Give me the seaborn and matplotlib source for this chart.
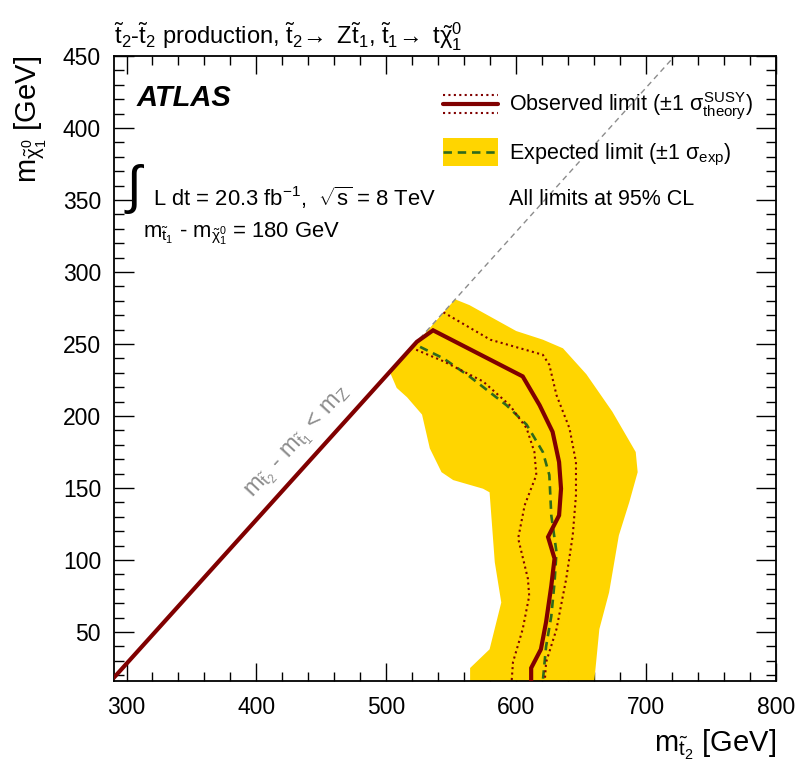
import matplotlib
matplotlib.use("Agg")
import matplotlib.pyplot as plt
import seaborn as sns
from matplotlib.lines import Line2D
from matplotlib.patches import Rectangle
from matplotlib.legend_handler import HandlerBase
from matplotlib.ticker import MultipleLocator

# ---------------- data ----------------
diag_x = [290, 722]
diag_y = [18, 450]

obs_x = [290, 523.5, 536, 605, 618, 628, 633, 634.5, 633, 624.5, 629.5, 627, 623, 619, 611.5, 611.5]
obs_y = [18, 251.5, 259.5, 227.5, 207.5, 189, 168, 149.5, 131, 116, 101, 82, 57, 38, 25, 16]

obs_up_x = [544, 580, 620.5, 625.5, 631, 641, 646, 646, 643.5, 638.5, 631, 623, 622]
obs_up_y = [272, 253, 242.5, 235.5, 214.5, 191.5, 168, 145, 117, 87, 52, 29, 16]

obs_dn_x = [523, 544, 574.5, 595, 608, 614, 615.5, 606.5, 601.5, 609, 610, 605, 597.5, 596.5]
obs_dn_y = [246, 238, 224, 207.5, 191.5, 175, 159, 138, 115, 87, 75, 52, 29, 16]

exp_x = [526, 544, 564, 592.5, 608, 620.5, 625.5, 627, 631, 629.5, 627, 623, 620.5]
exp_y = [248, 240, 227.5, 207.5, 194, 175, 159, 131, 105.5, 84.5, 61, 40, 16]

band_x = [503, 551.5, 553, 564, 577, 600, 620.5, 636, 654, 674, 692, 693.5, 687, 679, 671.5, 664, 660,
          564.5, 564.5, 579.5, 588.5, 583.5, 579.5, 574.5, 551.5, 542.5, 533.5, 527.5, 516, 508]
band_y = [230, 279.5, 281, 277, 270.5, 259, 253, 247, 229, 203, 175, 161, 140, 117, 77.5, 52, 15,
          15, 25, 38, 70.5, 98.5, 147, 149.5, 155.5, 161, 177.5, 201, 213, 219.5]

xlim = (290, 800)
ylim = (16, 450)
xticks = [300, 400, 500, 600, 700, 800]
yticks = [50, 100, 150, 200, 250, 300, 350, 400, 450]

RED = "#800000"
YEL = "#ffd500"
GRN = "#2f6a1c"
GRAY = "#8c8c8c"

# ---------------- style ----------------
sns.set_style("ticks")
plt.rcParams["font.family"] = ["Liberation Sans", "DejaVu Sans"]
plt.rcParams["mathtext.fontset"] = "custom"
plt.rcParams["mathtext.rm"] = "Liberation Sans"
plt.rcParams["mathtext.it"] = "Liberation Sans"
plt.rcParams["mathtext.bf"] = "Liberation Sans:bold"
plt.rcParams["mathtext.sf"] = "Liberation Sans"
plt.rcParams["text.color"] = "black"
plt.rcParams["axes.labelcolor"] = "black"
plt.rcParams["xtick.color"] = "black"
plt.rcParams["ytick.color"] = "black"

fig = plt.figure(figsize=(7.96, 7.72), dpi=100)
ax = fig.add_axes([0.1426, 0.1179, 0.9749 - 0.1426, 0.9275 - 0.1179])

# band
ax.fill(band_x, band_y, color=YEL, lw=0, zorder=1)

# diagonal
sns.lineplot(x=diag_x, y=diag_y, sort=False, estimator=None, color=GRAY, lw=1.0, ax=ax, zorder=2)
ax.lines[-1].set_linestyle((0, (4, 3)))

# expected
sns.lineplot(x=exp_x, y=exp_y, sort=False, estimator=None, color=GRN, lw=1.9, ax=ax, zorder=3)
ax.lines[-1].set_linestyle((0, (3.2, 2.2)))

# observed +- theory
for xs, ys in [(obs_up_x, obs_up_y), (obs_dn_x, obs_dn_y)]:
    sns.lineplot(x=xs, y=ys, sort=False, estimator=None, color=RED, lw=1.5, ax=ax, zorder=4)
    ax.lines[-1].set_linestyle((0, (1, 1.6)))

# observed
sns.lineplot(x=obs_x, y=obs_y, sort=False, estimator=None, color=RED, lw=3.0, ax=ax, zorder=5)
ax.lines[-1].set_solid_joinstyle("miter")

ax.set_xlim(*xlim)
ax.set_ylim(*ylim)
ax.set_xticks(xticks)
ax.set_yticks(yticks)
ax.xaxis.set_minor_locator(MultipleLocator(20))
ax.yaxis.set_minor_locator(MultipleLocator(10))
ax.tick_params(axis="both", which="both", direction="in", top=True, right=True,
               labelsize=16.5, colors="black", width=1.0)
ax.tick_params(axis="x", which="major", length=13, pad=11)
ax.tick_params(axis="x", which="minor", length=6.5)
ax.tick_params(axis="y", which="major", length=14.5, pad=9)
ax.tick_params(axis="y", which="minor", length=7)
for s in ax.spines.values():
    s.set_linewidth(1.3)
    s.set_color("black")

ax.set_xlabel(r"m$_{\tilde{t}_{2}}$ [GeV]", fontsize=21, loc="right", labelpad=6)
ax.set_ylabel(r"m$_{\tilde{\chi}^{0}_{1}}$ [GeV]", fontsize=21, loc="top", labelpad=10)

ax.set_title(r"$\tilde{t}_{2}$-$\tilde{t}_{2}$ production, $\tilde{t}_{2}\!\rightarrow$ Z$\tilde{t}_{1}$, "
             r"$\tilde{t}_{1}\!\rightarrow$ t$\tilde{\chi}^{0}_{1}$",
             loc="left", fontsize=17, pad=8)

# texts
ax.text(0.035, 0.933, "ATLAS", transform=ax.transAxes, fontsize=21, fontweight="bold",
        fontstyle="italic", ha="left", va="center")
ax.text(0.02, 0.787, "\u222b", transform=ax.transAxes, fontsize=38, ha="left", va="center")
ax.text(0.0594, 0.7728, r"L dt = 20.3 fb$^{-1}$,  $\sqrt{\mathrm{s}}$ = 8 TeV", transform=ax.transAxes,
        fontsize=15.8, ha="left", va="center")
ax.text(0.0444, 0.716, r"m$_{\tilde{t}_{1}}$ - m$_{\tilde{\chi}^{0}_{1}}$ = 180 GeV", transform=ax.transAxes,
        fontsize=15.8, ha="left", va="center")
ax.text(432, 182, r"m$_{\tilde{t}_{2}}$ - m$_{\tilde{t}_{1}}$ < m$_{Z}$", color=GRAY, fontsize=17,
        rotation=47.5, ha="center", va="center", rotation_mode="anchor")


# legend
class ObsHandler(HandlerBase):
    def create_artists(self, legend, orig_handle, xdescent, ydescent, width, height, fontsize, trans):
        yc = height / 2 - ydescent
        off = 0.43 * fontsize
        x0, x1 = -xdescent, -xdescent + width
        a = Line2D([x0, x1], [yc, yc], color=RED, lw=3.0, transform=trans)
        b = Line2D([x0, x1], [yc + off, yc + off], color=RED, lw=1.5, ls=(0, (1, 1.6)), transform=trans)
        c = Line2D([x0, x1], [yc - off, yc - off], color=RED, lw=1.5, ls=(0, (1, 1.6)), transform=trans)
        return [a, b, c]


class ExpHandler(HandlerBase):
    def create_artists(self, legend, orig_handle, xdescent, ydescent, width, height, fontsize, trans):
        r = Rectangle((-xdescent, -ydescent), width, height, facecolor=YEL, edgecolor="none", transform=trans)
        yc = height / 2 - ydescent
        l = Line2D([-xdescent, -xdescent + width], [yc, yc], color=GRN, lw=1.9, ls=(0, (3.2, 2.2)),
                   transform=trans)
        return [r, l]


class BlankHandler(HandlerBase):
    def create_artists(self, legend, orig_handle, xdescent, ydescent, width, height, fontsize, trans):
        return [Line2D([], [], color="none", transform=trans)]


h_obs = Line2D([], [])
h_exp = Rectangle((0, 0), 1, 1)
h_blank = Line2D([], [], color="none")
ax.legend([h_obs, h_exp, h_blank],
          [r"Observed limit ($\pm$1 $\sigma^{\mathrm{SUSY}}_{\mathrm{theory}}$)",
           r"Expected limit ($\pm$1 $\sigma_{\mathrm{exp}}$)",
           "All limits at 95% CL"],
          handler_map={h_obs: ObsHandler(), h_exp: ExpHandler(), h_blank: BlankHandler()},
          loc="upper left", bbox_to_anchor=(0.4974, 0.946), frameon=False, fontsize=15.5,
          handlelength=2.55, handleheight=1.65, labelspacing=0.75, handletextpad=0.5,
          borderpad=0, borderaxespad=0)

fig.savefig("out.png", dpi=100)
